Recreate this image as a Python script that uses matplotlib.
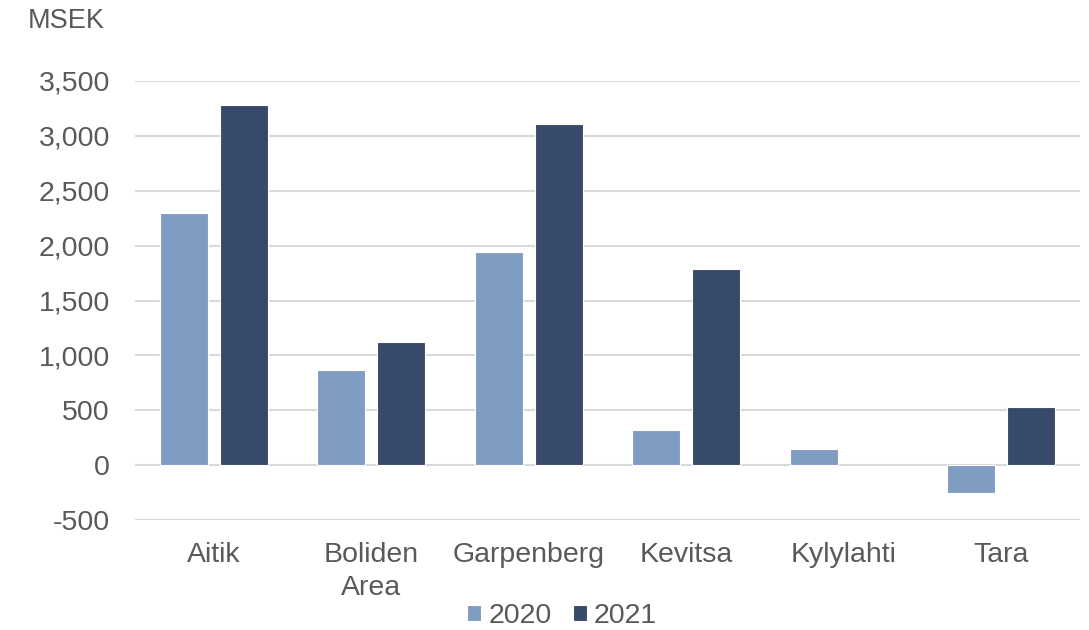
import matplotlib
matplotlib.use("Agg")
import matplotlib.pyplot as plt
import numpy as np

categories = ["Aitik", "Boliden\nArea", "Garpenberg", "Kevitsa", "Kylylahti", "Tara"]
values_2020 = [2300, 865, 1945, 318, 149, -255]
values_2021 = [3285, 1120, 3105, 1790, 0, 534]
series_labels = ["2020", "2021"]
yticks = [-500, 0, 500, 1000, 1500, 2000, 2500, 3000, 3500]

plt.rcParams['font.family'] = ['Liberation Sans', 'DejaVu Sans']
text_color = "#595959"
c2020 = "#7F9CC2"
c2021 = "#374A69"
fs = 20.5

fig = plt.figure(figsize=(10.89, 6.30), dpi=100)
ax = fig.add_axes([135/1089, 1 - 520/630, (1080-135)/1089, (520-81)/630])

x = np.arange(len(categories))
w = 0.305
off = 0.19
lw2020 = [0.8 if v != 0 else 0 for v in values_2020]
lw2021 = [0.8 if v != 0 else 0 for v in values_2021]
ax.bar(x - off, values_2020, width=w, color=c2020, edgecolor="white", linewidth=lw2020,
       label=series_labels[0], zorder=3)
ax.bar(x + off, values_2021, width=w, color=c2021, edgecolor="white", linewidth=lw2021,
       label=series_labels[1], zorder=3)

ax.set_xlim(-0.5, len(categories) - 0.5)
ax.set_ylim(-500, 3500)
ax.set_yticks(yticks)
ax.set_yticklabels([f"{v:,}" for v in yticks])
ax.set_xticks(x)
ax.set_xticklabels(categories, linespacing=1.32)
ax.grid(axis="y", color="#D9D9D9", linewidth=1.5, zorder=0)
ax.set_axisbelow(True)
for s in ax.spines.values():
    s.set_visible(False)
ax.tick_params(axis="both", length=0, colors=text_color, labelsize=fs)
ax.tick_params(axis="y", pad=18)
ax.tick_params(axis="x", pad=16)

fig.text(28/1089, 1 - 21/630, "MSEK", color=text_color, fontsize=19.5, va="center", ha="left")

leg = fig.legend(loc="center", bbox_to_anchor=(562/1089, 1 - 616/630), ncol=2, frameon=False,
                 fontsize=fs, handlelength=0.5, handleheight=0.5, handletextpad=0.25,
                 columnspacing=0.75, borderaxespad=0, borderpad=0)
for t in leg.get_texts():
    t.set_color(text_color)

fig.savefig("out.png", dpi=100)
